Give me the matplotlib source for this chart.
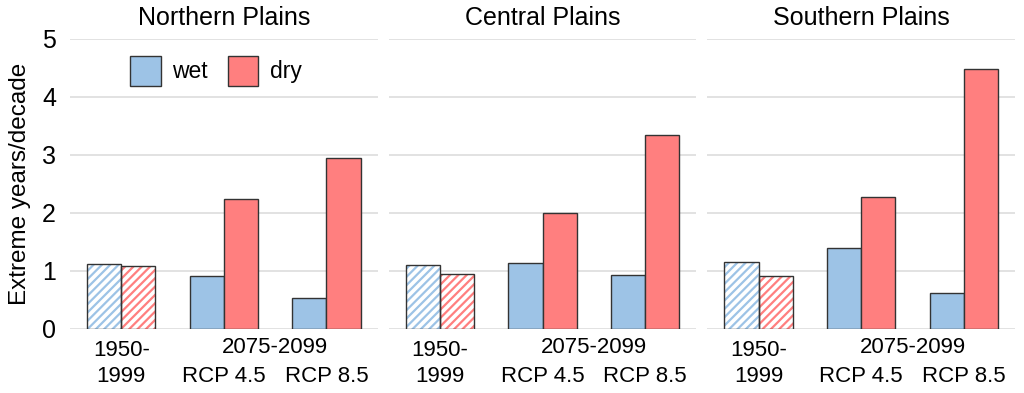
import matplotlib.pyplot as plt
import matplotlib.transforms as mtransforms
import numpy as np

plt.rcParams['font.family'] = ['Liberation Sans', 'DejaVu Sans']
plt.rcParams['hatch.linewidth'] = 1.6

regions = ['Northern Plains', 'Central Plains', 'Southern Plains']
hist_label = '1950-\n1999'
scenarios = ['RCP 4.5', 'RCP 8.5']
future_label = '2075-2099'
wet = [[1.12, 0.91, 0.54],
       [1.10, 1.14, 0.93],
       [1.155, 1.40, 0.615]]
dry = [[1.09, 2.24, 2.95],
       [0.94, 2.00, 3.34],
       [0.91, 2.28, 4.48]]

wet_color = '#9dc3e6'
dry_color = '#ff7f7f'
edge = '#333333'
w = 1 / 3

fig = plt.figure(figsize=(10.24, 3.93), dpi=100)
left, right, gap = 70 / 1024, 1015 / 1024, 11 / 1024
pw = (right - left - 2 * gap) / 3
bottom, top = 64 / 393, 354 / 393

x = np.arange(1 + len(scenarios))
for i, region in enumerate(regions):
    ax = fig.add_axes([left + i * (pw + gap), bottom, pw, top - bottom])
    for j in x:
        for val, col, off in ((wet[i][j], wet_color, -w / 2), (dry[i][j], dry_color, w / 2)):
            if j == 0:
                ax.bar(j + off, val, w, color='white', edgecolor=col,
                       hatch='////', linewidth=0, zorder=2)
                ax.bar(j + off, val, w, fill=False, edgecolor=edge,
                       linewidth=1.0, zorder=3)
            else:
                ax.bar(j + off, val, w, color=col, edgecolor=edge,
                       linewidth=1.0, zorder=3)
    ax.set_xlim(-0.5, 2.5)
    ax.set_ylim(0, 5)
    ax.set_yticks(range(6))
    ax.grid(axis='y', color='#dddddd', linewidth=1.2, zorder=0)
    ax.set_axisbelow(True)
    for s in ax.spines.values():
        s.set_visible(False)
    # historical label on a major tick, scenarios on minor ticks one line lower
    ax.set_xticks([0])
    ax.set_xticklabels([hist_label], fontsize=16, linespacing=1.3)
    ax.set_xticks(x[1:], minor=True)
    ax.set_xticklabels(scenarios, minor=True, fontsize=16)
    ax.tick_params(axis='x', which='major', length=0, pad=8)
    ax.tick_params(axis='x', which='minor', length=0, pad=27)
    trans = mtransforms.blended_transform_factory(ax.transData, ax.transAxes)
    ax.text(1.5, -0.028, future_label, transform=trans, ha='center', va='top',
            fontsize=16)
    ax.set_title(region, fontsize=18, pad=10)
    ax.tick_params(axis='y', length=0)
    if i == 0:
        ax.set_ylabel('Extreme years/decade', fontsize=17.5, labelpad=8)
        ax.tick_params(axis='y', labelsize=18, pad=10)
        h1 = plt.Rectangle((0, 0), 1, 1, facecolor=wet_color, edgecolor=edge)
        h2 = plt.Rectangle((0, 0), 1, 1, facecolor=dry_color, edgecolor=edge)
        ax.legend([h1, h2], ['wet', 'dry'], ncol=2, frameon=False, fontsize=16.5,
                  loc='center left', bbox_to_anchor=(0.128, 0.89),
                  handlelength=1.35, handleheight=1.6, columnspacing=0.85,
                  handletextpad=0.5)
    else:
        ax.set_yticklabels([])

fig.savefig('out.png', dpi=100)
